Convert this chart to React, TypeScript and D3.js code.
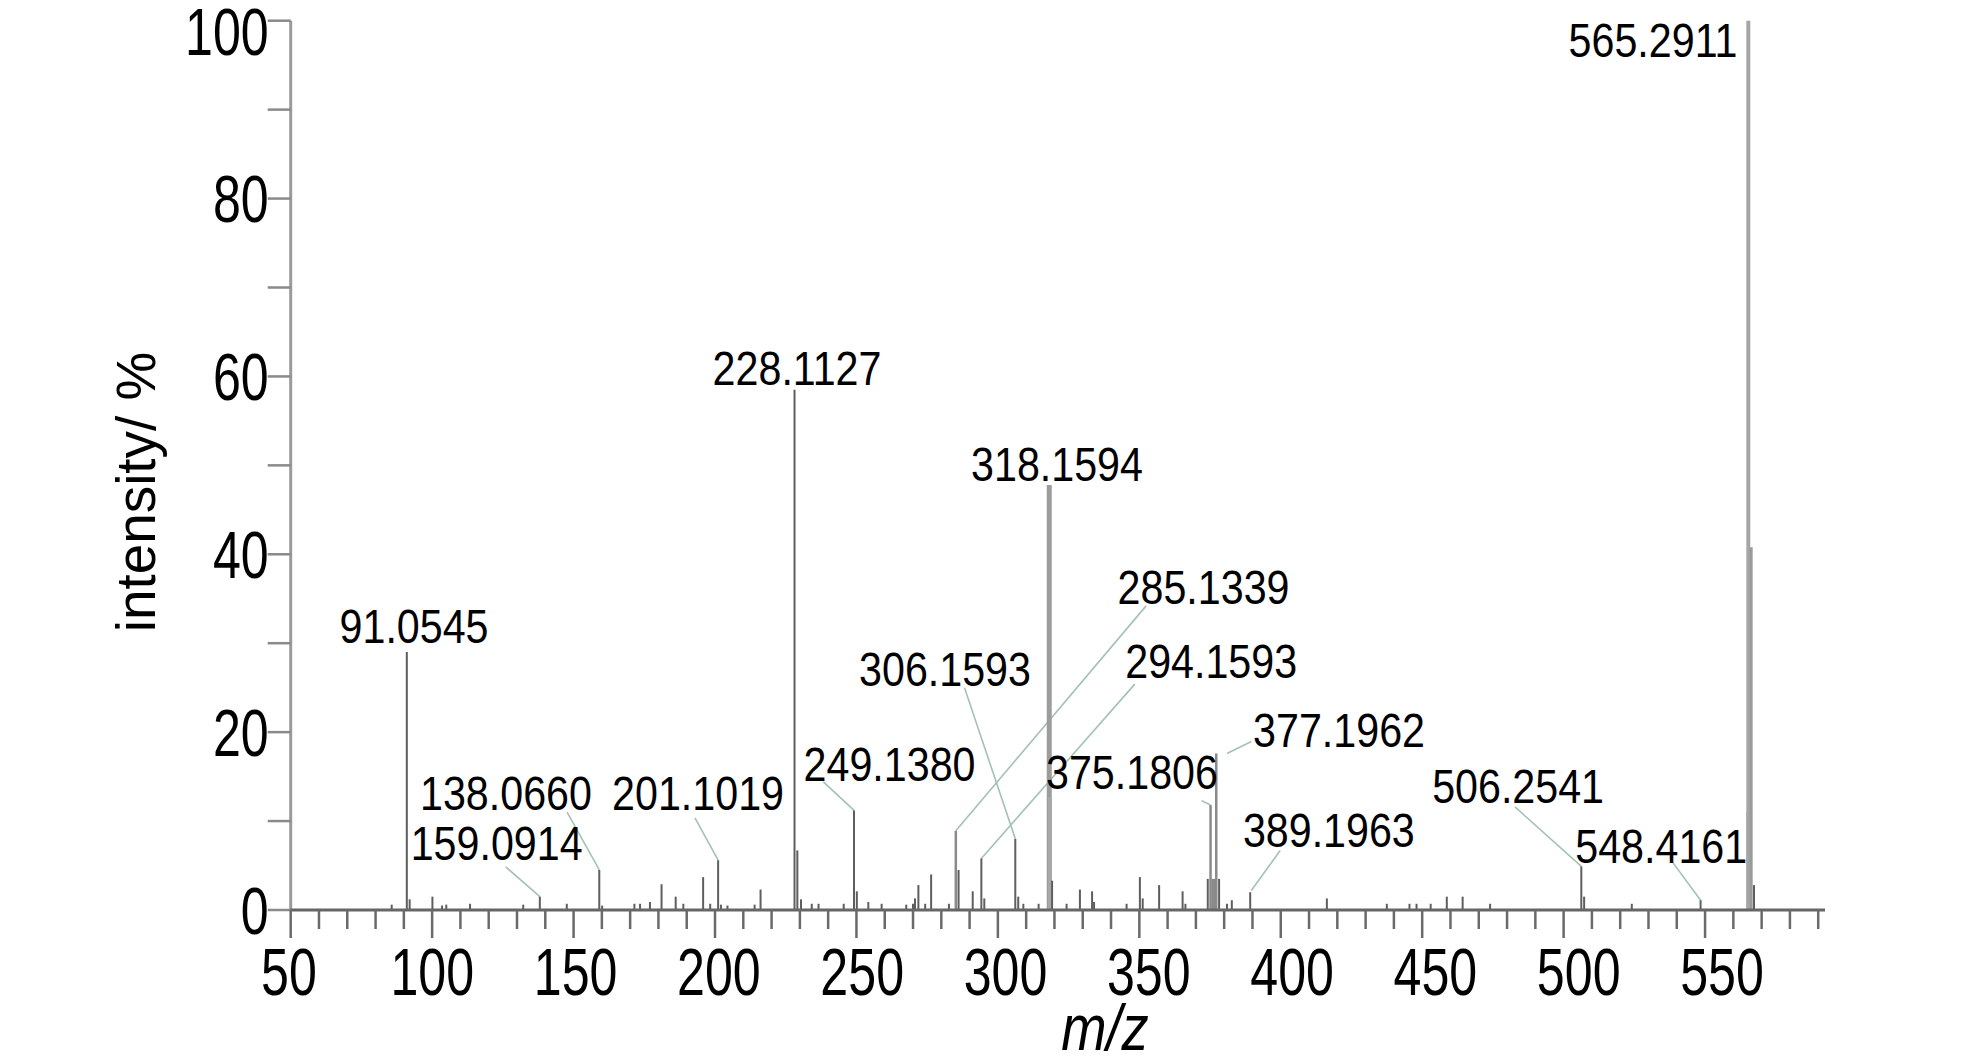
import React from 'react';
import * as d3 from 'd3';

// ---------- data ----------
const peakMz = [
  85.7, 91.05, 92.05, 100.1, 103.5, 105.0, 113.4, 132.2, 138.07, 147.6,
  159.09, 160.1, 171.5, 173.5, 177.0, 181.1, 186.1, 188.8, 195.8, 198.3,
  201.1, 202.1, 204.4, 214.0, 216.1, 228.11, 229.11, 230.4, 234.2, 236.6,
  245.5, 249.14, 250.14, 254.2, 258.9, 267.6, 270.0, 270.7, 271.9, 274.3,
  276.4, 282.7, 285.13, 286.1, 291.1, 294.16, 295.2, 306.16, 307.2, 309.0,
  314.4, 318.16, 318.4, 319.16, 324.3, 329.0, 333.3, 334.0, 345.5, 350.2,
  351.2, 357.0, 365.3, 366.3, 374.2, 375.18, 376.18, 377.2, 378.2, 381.0,
  382.7, 389.2, 416.3, 437.5, 445.5, 448.0, 453.0, 458.7, 464.3, 474.0,
  506.25, 507.25, 524.1, 548.42, 564.9, 565.29, 566.3, 567.3,
];
const peakIntensity = [
  0.6, 29.0, 1.2, 1.5, 0.5, 0.6, 0.7, 0.6, 1.5, 0.7,
  4.5, 0.5, 0.7, 0.7, 0.9, 2.9, 1.5, 0.7, 3.7, 0.7,
  5.6, 0.6, 0.5, 0.6, 2.3, 58.5, 6.7, 1.2, 0.7, 0.7,
  0.7, 11.2, 2.1, 0.9, 0.7, 0.6, 0.7, 1.3, 2.8, 0.7,
  4.0, 0.7, 8.9, 4.5, 2.1, 5.8, 1.3, 8.0, 1.5, 0.7,
  0.7, 47.8, 12.7, 3.3, 0.7, 2.3, 2.1, 0.9, 0.7, 3.7,
  1.3, 2.8, 2.1, 0.7, 3.5, 11.8, 3.5, 17.6, 3.5, 0.7,
  1.1, 2.0, 1.3, 0.7, 0.7, 0.7, 0.7, 1.5, 1.5, 0.7,
  4.9, 1.5, 0.7, 1.1, 11.0, 100, 40.8, 2.8,
];

// peak annotations (label text, label centre in data units)
const labelText = [
  '565.2911', '228.1127', '318.1594', '285.1339', '294.1593', '306.1593',
  '375.1806', '377.1962', '389.1963', '249.1380', '201.1019', '138.0660',
  '159.0914', '91.0545', '506.2541', '548.4161',
];
const labelMz = [531.6, 229.0, 320.9, 372.7, 375.4, 281.3, 347.4, 420.6, 417.0, 261.7, 194.0, 126.1, 122.8, 93.6, 483.9, 534.5];
const labelInt = [95.9, 59.0, 48.2, 34.4, 26.1, 25.2, 13.6, 18.3, 7.1, 14.5, 11.2, 11.2, 5.6, 30.0, 12.0, 5.3];

// leader lines (from label to peak), data units
const leaderFromMz = [352.4, 348.4, 288.2, 372.0, 389.6, 399.8, 238.3, 192.9, 147.7, 126.0, 482.8, 538.7];
const leaderFromInt = [34.2, 25.4, 25.0, 12.3, 18.95, 6.7, 14.4, 10.35, 11.0, 4.85, 11.6, 5.3];
const leaderToMz = [285.13, 294.16, 306.16, 375.18, 381.0, 389.6, 249.14, 201.1, 159.09, 138.07, 506.25, 548.42];
const leaderToInt = [8.9, 5.8, 8.0, 11.8, 17.6, 2.2, 11.2, 5.6, 4.5, 1.5, 4.9, 1.1];

const xTickValues = d3.range(50, 591, 10);
const xLabelValues = d3.range(50, 551, 50);
const yTickValues = d3.range(0, 101, 10);
const yLabelValues = d3.range(0, 101, 20);

const xTitle = 'm/z';
const yTitle = 'intensity/ %';

// ---------- styles ----------
const W = 1984;
const H = 1063;
const FONT = "'Liberation Sans', Arial, Helvetica, sans-serif";
const heavyPeaks: Record<string, { w: number; c: string }> = {
  '565.29': { w: 4, c: '#a6a6a6' },
  '566.3': { w: 3, c: '#9a9a9a' },
  '564.9': { w: 2, c: '#b0b0b0' },
  '318.16': { w: 5, c: '#9c9c9c' },
  '318.4': { w: 4, c: '#a8a8a8' },
  '285.13': { w: 2.5, c: '#8a8a8a' },
  '375.18': { w: 2.5, c: '#8a8a8a' },
  '377.2': { w: 2.5, c: '#8a8a8a' },
  '376.18': { w: 4, c: '#8a8a8a' },
};

export default function App() {
  const x = d3.scaleLinear().domain([50, 592.4]).range([290.7, 1825]);
  // tick labels in the original drift slightly right of their ticks
  const xLab = d3.scaleLinear().domain([50, 550]).range([289, 1722]);
  const y = d3.scaleLinear().domain([0, 100]).range([910, 20.7]);
  const x0 = x(50);
  const y0 = y(0);

  const tickSx = 0.76;
  const tickFs = 66;
  const labSx = 0.85;
  const labFs = 48.5;

  return (
    <svg
      width={W}
      height={H}
      style={{ position: 'absolute', left: 0, top: 0, background: '#fff' }}
      fontFamily={FONT}
    >
      <rect x={0} y={0} width={W} height={H} fill="#fff" />

      {/* leader lines */}
      <g stroke="#a3c2b3" strokeWidth={1.6} fill="none">
        {leaderFromMz.map((m, i) => (
          <line
            key={'ld' + i}
            x1={x(m)}
            y1={y(leaderFromInt[i])}
            x2={x(leaderToMz[i])}
            y2={y(leaderToInt[i])}
          />
        ))}
      </g>

      {/* peaks */}
      <g>
        {peakMz.map((m, i) => {
          const st = heavyPeaks[String(m)] || { w: 2, c: '#5e5e5e' };
          return (
            <line
              key={'pk' + i}
              x1={x(m)}
              x2={x(m)}
              y1={y0}
              y2={y(peakIntensity[i])}
              stroke={st.c}
              strokeWidth={st.w}
            />
          );
        })}
      </g>

      {/* y axis */}
      <line x1={x0} x2={x0} y1={y(100)} y2={y0} stroke="#9a9a9a" strokeWidth={3} />
      {yTickValues.map((v) => (
        <line key={'yt' + v} x1={x0 - 23} x2={x0} y1={y(v)} y2={y(v)} stroke="#8a8a8a" strokeWidth={2.5} />
      ))}
      {yLabelValues.map((v) => {
        const cy = Math.max(y(v), 31);
        return (
          <text
            key={'yl' + v}
            transform={`translate(${x0 - 22},${cy + 0.36 * tickFs}) scale(${tickSx},1)`}
            textAnchor="end"
            fontSize={tickFs}
            fill="#000"
          >
            {v}
          </text>
        );
      })}

      {/* x axis */}
      <line x1={x0} x2={x(592.4)} y1={y0} y2={y0} stroke="#666" strokeWidth={3} />
      {xTickValues.map((v) => {
        const major = v % 50 === 0;
        return (
          <line
            key={'xt' + v}
            x1={x(v)}
            x2={x(v)}
            y1={y0}
            y2={y0 + (major ? 28 : 19)}
            stroke="#6a6a6a"
            strokeWidth={2.5}
          />
        );
      })}
      {xLabelValues.map((v) => (
        <text
          key={'xl' + v}
          transform={`translate(${xLab(v)},995) scale(${tickSx},1)`}
          textAnchor="middle"
          fontSize={tickFs}
          fill="#000"
        >
          {v}
        </text>
      ))}

      {/* axis titles */}
      <text
        transform={`translate(1105,1050) scale(0.85,1)`}
        textAnchor="middle"
        fontSize={64}
        fontStyle="italic"
        fill="#000"
      >
        {xTitle}
      </text>
      <text
        transform={`translate(155,492) rotate(-90) scale(0.98,1)`}
        textAnchor="middle"
        fontSize={56}
        fill="#000"
      >
        {yTitle}
      </text>

      {/* peak labels */}
      {labelText.map((t, i) => (
        <text
          key={'lb' + i}
          transform={`translate(${x(labelMz[i])},${y(labelInt[i])}) scale(${labSx},1)`}
          textAnchor="middle"
          fontSize={labFs}
          fill="#000"
        >
          {t}
        </text>
      ))}
    </svg>
  );
}
